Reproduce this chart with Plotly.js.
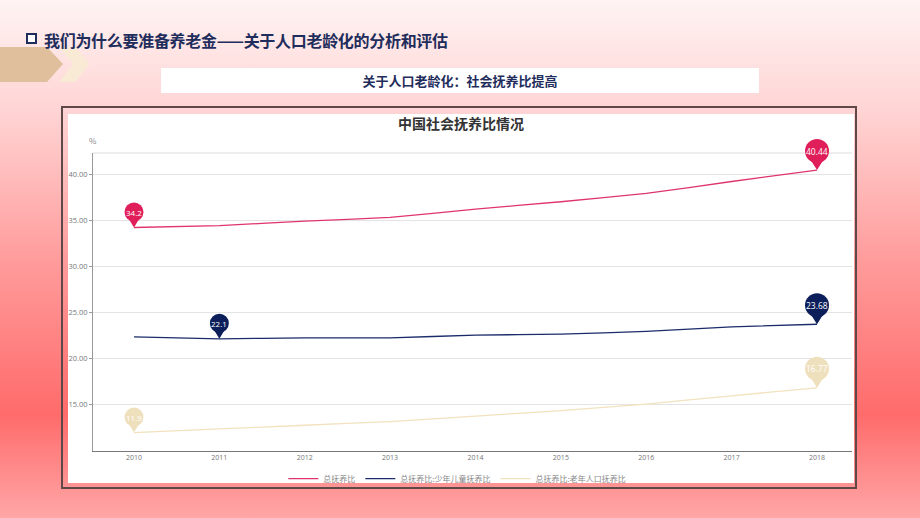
<!DOCTYPE html>
<html>
<head>
<meta charset="utf-8">
<script src="https://cdn.plot.ly/plotly-3.0.1.min.js"></script>
<style>
  html, body { margin: 0; padding: 0; }
  body {
    width: 920px; height: 518px; overflow: hidden; position: relative;
    background: linear-gradient(to bottom, #fff3f3 0%, #ffd3d3 22%, #ff9c9c 50%, #ff6b6b 80%, #ffa6a6 100%);
    font-family: "Noto Sans CJK SC", "Noto Sans", sans-serif;
  }
  #bullet { position: absolute; left: 26px; top: 33px; width: 7px; height: 7px; border: 2.5px solid #1f2d5c; background: #fff; }
  #header { position: absolute; left: 44px; top: 28px; font-size: 16px; font-weight: bold; color: #1f2d5c; white-space: nowrap; letter-spacing: -0.3px; }
  #deco { position: absolute; left: 0; top: 46px; }
  #subbox { position: absolute; left: 161px; top: 68px; width: 598px; height: 25px; background: #fff; text-align: center; line-height: 25px; font-size: 13px; font-weight: bold; color: #1f2d5c; }
  #frame { position: absolute; left: 61px; top: 106px; width: 796px; height: 383px; box-sizing: border-box; border: 2px solid #5e4848; }
  #chart { position: absolute; left: 68px; top: 114px; width: 786px; height: 369px; background: #fff; }
</style>
</head>
<body>
<svg id="deco" width="100" height="40">
  <polygon points="0,1 47,1 63,18 47,36 0,36" fill="#e0c09c"/>
  <polygon points="59,1 75,1 90,18 75,36 59,36 73,18" fill="#f9ead6"/>
</svg>
<div id="bullet"></div>
<div id="header">我们为什么要准备养老金——关于人口老龄化的分析和评估</div>
<div id="subbox">关于人口老龄化：社会抚养比提高</div>
<div id="frame"></div>
<div id="chart"></div>
<script>
const years = [2010, 2011, 2012, 2013, 2014, 2015, 2016, 2017, 2018];
const yearLabels = ["2010", "2011", "2012", "2013", "2014", "2015", "2016", "2017", "2018"];
const totalRatio = [34.2, 34.4, 34.9, 35.3, 36.2, 37.0, 37.9, 39.2, 40.44];
const childRatio = [22.3, 22.1, 22.2, 22.2, 22.5, 22.6, 22.9, 23.4, 23.68];
const oldRatio = [11.9, 12.3, 12.7, 13.1, 13.7, 14.3, 15.0, 15.9, 16.77];
const seriesNames = ["总抚养比", "总抚养比:少年儿童抚养比", "总抚养比:老年人口抚养比"];
const seriesColors = ["#e0356b", "#1b2c6b", "#f2e2be"];
const pinColors = ["#e01e5a", "#0d1f5a", "#efe0bd"];
const yTicks = [15, 20, 25, 30, 35, 40];

const allSeries = [totalRatio, childRatio, oldRatio];

// geometry: main axis occupies lower part of the plot area; an invisible
// second subplot with the same scale spans the full area so pins are not clipped
const H = 369, mT = 20, mB = 32;
const plotH = H - mT - mB;
const mainH = plotH - 19;
const mainDomTop = mainH / plotH;
const xRange = [2009.52, 2018.41];
const yRange = [9.9, 42.3];
const yRange2 = [yRange[0], yRange[0] + (yRange[1] - yRange[0]) / mainDomTop];

const traces = allSeries.map((vals, i) => ({
  type: "scatter", mode: "lines", x: years, y: vals, name: seriesNames[i],
  xaxis: "x", yaxis: "y",
  line: { color: seriesColors[i], width: 1.3, shape: "spline", smoothing: 0.3 },
  hoverinfo: "skip"
}));
// invisible carrier for the pin subplot
traces.push({
  type: "scatter", mode: "lines", x: years, y: totalRatio, xaxis: "x2", yaxis: "y2",
  line: { color: "rgba(0,0,0,0)", width: 0 }, showlegend: false, hoverinfo: "skip"
});

const shapes = [];
const annotations = [];

// top boundary line of the grid
shapes.push({ type: "line", xref: "x domain", yref: "y domain", x0: 0, x1: 1, y0: 1, y1: 1, line: { color: "#dddddd", width: 1 } });

// max / min pins, derived from data
allSeries.forEach((vals, i) => {
  let maxI = 0, minI = 0;
  vals.forEach((v, k) => { if (v > vals[maxI]) maxI = k; if (v < vals[minI]) minI = k; });
  [minI, maxI].forEach(k => {
    const label = String(vals[k]);
    const long = label.replace(".", "").length > 3;
    const r = long ? 12 : 9.5;
    const h = long ? 19 : 15.5;
    shapes.push({
      type: "circle", xref: "x2", yref: "y2", xsizemode: "pixel", ysizemode: "pixel",
      xanchor: years[k], yanchor: vals[k],
      x0: -r, x1: r, y0: h - r, y1: h + r,
      fillcolor: pinColors[i], line: { width: 0 }, layer: "above"
    });
    const w = r * 0.62;
    shapes.push({
      type: "path", xref: "x2", yref: "y2", xsizemode: "pixel", ysizemode: "pixel",
      xanchor: years[k], yanchor: vals[k],
      path: "M " + (-w) + " " + (h - r * 0.6) + " L " + w + " " + (h - r * 0.6) + " L 0 0 Z",
      fillcolor: pinColors[i], line: { width: 0 }, layer: "above"
    });
    annotations.push({
      x: years[k], y: vals[k], xref: "x2", yref: "y2", yshift: h, showarrow: false,
      text: label, font: { size: long ? 8.5 : 8, color: "#ffffff", family: "Open Sans, sans-serif" }
    });
  });
});

annotations.push({
  xref: "paper", yref: "paper", x: 0, y: 1, xanchor: "center", yanchor: "middle", yshift: -6, showarrow: false,
  text: "%", font: { size: 8, color: "#888888" }
});

const layout = {
  width: 786, height: H,
  margin: { l: 25, r: 2, t: mT, b: mB, autoexpand: false },
  paper_bgcolor: "#ffffff", plot_bgcolor: "rgba(0,0,0,0)",
  font: { family: "Noto Sans CJK SC, sans-serif", color: "#666666" },
  title: {
    text: "中国社会抚养比情况", x: 0.5, xanchor: "center", y: 1 - 10.5 / H, yanchor: "middle", yref: "container",
    font: { size: 14, color: "#333333", family: "Noto Sans CJK SC, sans-serif", weight: "bold" }
  },
  xaxis: {
    range: xRange, tickvals: years, ticktext: yearLabels, anchor: "y",
    showgrid: false, zeroline: false, showline: true, linecolor: "#777777", linewidth: 1,
    ticks: "", tickfont: { size: 7, color: "#777777", family: "Open Sans, sans-serif" }, fixedrange: true
  },
  yaxis: {
    range: yRange, domain: [0, mainDomTop], tickvals: yTicks, tickformat: ".2f", anchor: "x",
    showgrid: true, gridcolor: "#e4e4e4", gridwidth: 1, zeroline: false,
    showline: true, linecolor: "#999999", linewidth: 1,
    ticks: "outside", ticklen: 3, tickcolor: "#999999",
    tickfont: { size: 7.5, color: "#777777", family: "Open Sans, sans-serif" }, fixedrange: true
  },
  xaxis2: { range: xRange, anchor: "y2", visible: false, fixedrange: true },
  yaxis2: { range: yRange2, domain: [0, 1], anchor: "x2", visible: false, fixedrange: true },
  showlegend: true,
  legend: {
    orientation: "h", x: 0.48, xanchor: "center", y: -26 / mainH, yanchor: "middle",
    font: { size: 8, color: "#888888" }, itemwidth: 30, bgcolor: "rgba(0,0,0,0)"
  },
  shapes: shapes,
  annotations: annotations
};

Plotly.newPlot("chart", traces, layout, { displayModeBar: false, staticPlot: true });
</script>
</body>
</html>
